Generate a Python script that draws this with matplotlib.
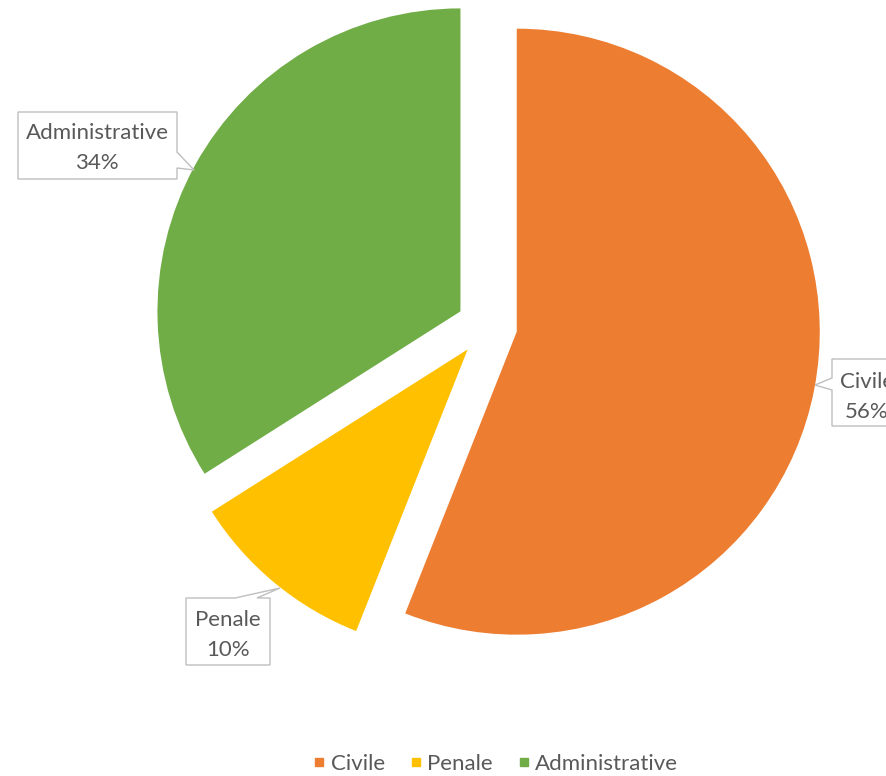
import matplotlib as mpl
mpl.use('Agg')
import matplotlib.pyplot as plt
from matplotlib.patches import Polygon
from matplotlib.lines import Line2D

labels = ['Civile', 'Penale', 'Administrative']
values = [56, 10, 34]
colors = ['#ED7D31', '#FFC000', '#70AD47']
txt_col = '#595959'

plt.rcParams['font.family'] = ['Lato', 'DejaVu Sans']

W, H = 886, 776
cx, cy, R = 487, 326, 303.

def px(x, y):
    # pixel (from top-left) -> data coords
    return ((x - cx) / R, (cy - y) / R)

fig = plt.figure(figsize=(W/100, H/100), dpi=100)
ax = fig.add_axes([0, 0, 1, 1])
wedges, _ = ax.pie(values, colors=colors, startangle=90, counterclock=False,
                   explode=[0.1]*3, radius=1)
ax.set_xlim(px(0, 0)[0], px(W, 0)[0])
ax.set_ylim(px(0, H)[1], px(0, 0)[1])
ax.set_aspect('auto')
ax.axis('off')

# callouts: box outline with pointer, pixel coords
callouts = {
    'Administrative': [(18, 112), (177, 112), (177, 152), (194, 170), (177, 168),
                       (177, 179), (18, 179)],
    'Penale': [(186, 598), (235, 598), (280, 588), (257, 598), (270, 598),
               (270, 665), (186, 665)],
    'Civile': [(832, 359), (920, 359), (920, 426), (832, 426), (832, 390),
               (815, 385), (832, 378)],
}
text_pos = {'Administrative': (97, 148), 'Penale': (228, 635), 'Civile': (867, 397)}

for lab, v in zip(labels, values):
    pts = [px(x, y) for x, y in callouts[lab]]
    ax.add_patch(Polygon(pts, closed=True, facecolor='white', edgecolor='#BFBFBF',
                         lw=1.0, zorder=3))
    tx, ty = px(*text_pos[lab])
    t = ax.text(tx, ty, f'{lab}\n{v}%', ha='center', va='center', fontsize=16,
                color=txt_col, linespacing=1.6, zorder=4)
    t.set_clip_on(True)

handles = [Line2D([], [], marker='s', ls='', color=c, markersize=6) for c in colors]
fig.legend(handles, labels, loc='center', bbox_to_anchor=(493/W, 12/H), ncol=3,
           frameon=False, fontsize=16, labelcolor=txt_col, handletextpad=0.0,
           columnspacing=0.9, handlelength=1.0)

fig.savefig('out.png', dpi=100, facecolor='w')
